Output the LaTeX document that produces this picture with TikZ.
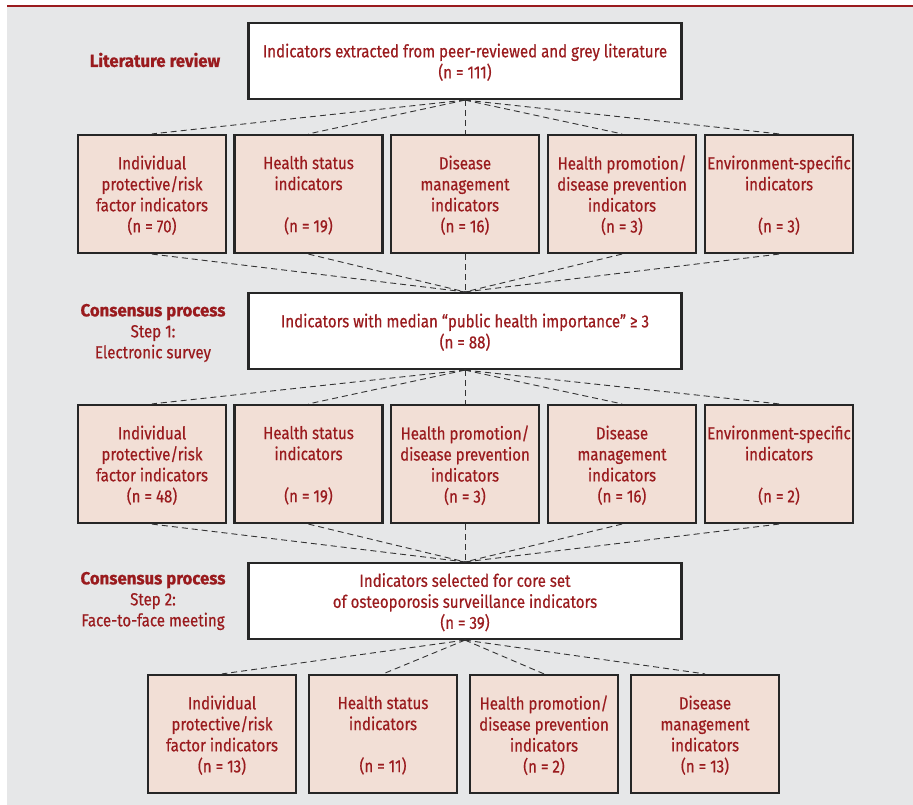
\documentclass[tikz,border=0pt]{standalone}
\usepackage{fontspec}
\setmainfont[FakeStretch=0.86,FakeBold=0.5,BoldFeatures={FakeStretch=0.96,FakeBold=0.8}]{Fira Sans}
\usepackage{tikz}
\usetikzlibrary{positioning}

\definecolor{darkred}{HTML}{9A1B1E}
\definecolor{panelgrey}{HTML}{E6E7E8}
\definecolor{boxpink}{HTML}{F2DFD6}

\tikzset{
   mainbox/.style={draw=black!85, fill=white, line width=2.2pt,
      minimum width=433, minimum height=76, inner sep=0pt,
      align=center, text=darkred, font=\fontsize{17.5}{21}\selectfont,
      text depth=-5pt},
   catbox/.style={draw=black!85, fill=boxpink, line width=2.2pt,
      minimum width=148, minimum height=118, inner sep=0pt,
      align=center, text=darkred, font=\fontsize{17.5}{21}\selectfont,
      text depth=-3pt},
   stagelabel/.style={align=center, text=darkred,
      font=\fontsize{17.5}{21}\selectfont},
   fanline/.style={draw=black!80, line width=0.9pt, dash pattern=on 6pt off 4pt}
}

\begin{document}
\begin{tikzpicture}[x=1pt, y=-1pt]
   \useasboundingbox (0,0) rectangle (913,805);
   \fill[panelgrey] (7,7) rectangle (913,805);
   \draw[darkred, line width=2.4pt] (7,6) -- (913,6);

   % stage labels
   \node[stagelabel] (litlabel) at (155,60) {\textbf{Literature review}};
   \node[stagelabel] (surveylabel) at (153,333) {\textbf{Consensus process}\\Step 1:\\Electronic survey};
   \node[stagelabel] (meetlabel) at (153,601) {\textbf{Consensus process}\\Step 2:\\Face-to-face meeting};

   % literature review
   \node[mainbox] (lit) at (465,61) {Indicators extracted from peer-reviewed and grey literature\\(n = 111)};

   \node[catbox] (a1) at (152,194) {Individual\\protective/risk\\factor indicators\\(n = 70)};
   \node[catbox] (a2) at (308.5,194) {Health status\\indicators\\~\\(n = 19)};
   \node[catbox] (a3) at (465,194) {Disease\\management\\indicators\\(n = 16)};
   \node[catbox] (a4) at (622,194) {Health promotion/\\disease prevention\\indicators\\(n = 3)};
   \node[catbox] (a5) at (779,194) {Environment-specific\\indicators\\~\\(n = 3)};

   % step 1
   \node[mainbox] (survey) at (465,331) {Indicators with median \textquotedblleft public health importance\textquotedblright{} ≥ 3\\(n = 88)};

   \node[catbox] (b1) at (152,464) {Individual\\protective/risk\\factor indicators\\(n = 48)};
   \node[catbox] (b2) at (308.5,464) {Health status\\indicators\\~\\(n = 19)};
   \node[catbox] (b3) at (465,464) {Health promotion/\\disease prevention\\indicators\\(n = 3)};
   \node[catbox] (b4) at (622,464) {Disease\\management\\indicators\\(n = 16)};
   \node[catbox] (b5) at (779,464) {Environment-specific\\indicators\\~\\(n = 2)};

   % step 2
   \node[mainbox] (core) at (465,601) {Indicators selected for core set\\of osteoporosis surveillance indicators\\(n = 39)};

   \node[catbox] (c1) at (222,734) {Individual\\protective/risk\\factor indicators\\(n = 13)};
   \node[catbox] (c2) at (383,734) {Health status\\indicators\\~\\(n = 11)};
   \node[catbox] (c3) at (544,734) {Health promotion/\\disease prevention\\indicators\\(n = 2)};
   \node[catbox] (c4) at (705,734) {Disease\\management\\indicators\\(n = 13)};

   % dashed fans
   \foreach \i in {1,...,5} {
      \draw[fanline] (lit.south) -- (a\i.north);
      \draw[fanline] (a\i.south) -- (survey.north);
      \draw[fanline] (survey.south) -- (b\i.north);
      \draw[fanline] (b\i.south) -- (core.north);
   }
   \foreach \i in {1,...,4}
      \draw[fanline] (core.south) -- (c\i.north);
\end{tikzpicture}
\end{document}
